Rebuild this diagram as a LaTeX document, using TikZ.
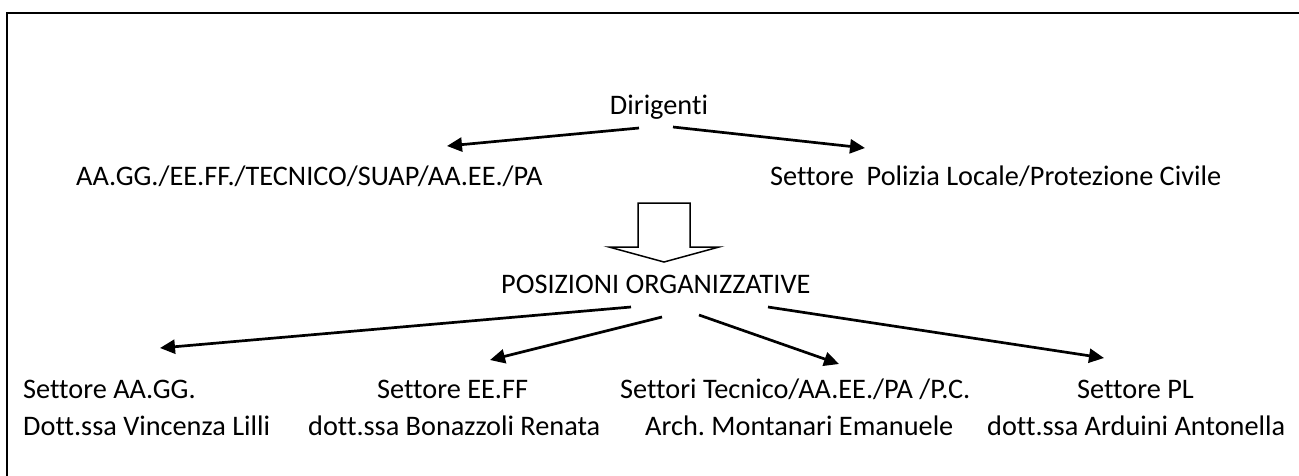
\documentclass[tikz,border=0pt]{standalone}
\usepackage{fontspec}
\setmainfont{Carlito}[Ligatures=NoCommon]
\frenchspacing
\usetikzlibrary{arrows.meta}
\begin{document}
\begin{tikzpicture}[x=1pt,y=-1pt,
  lbl/.style={inner sep=0pt, font=\fontsize{28.3}{34}\selectfont},
  conn/.style={line width=2.7pt, -{Triangle[length=15pt,width=14pt]}},
  blockarrow/.style={line width=1.5pt, fill=white, line join=miter}]
\useasboundingbox (0,0) rectangle (1299,475);
% frame (open on right and bottom, as in the reference)
\draw[line width=2.5pt] (1310,13) -- (7,13) -- (7,490);
% top level
\node[lbl, anchor=base] (dir) at (659,114) {Dirigenti};
\node[lbl, anchor=base west] (left) at (76,185) {AA.GG./EE.FF./TECNICO/SUAP/AA.EE./PA};
\node[lbl, anchor=base west] (right) at (770,185) {Settore\ \ Polizia Locale/Protezione Civile};
\coordinate (d1s) at (639,128); \coordinate (d1e) at (447,146);
\coordinate (d2s) at (673,127); \coordinate (d2e) at (865,148);
\draw[conn] (d1s) -- (d1e);
\draw[conn] (d2s) -- (d2e);
% block arrow
\draw[blockarrow] (638,203) -- (690,203) -- (690,247) -- (719,247) -- (664,262) -- (609,247) -- (638,247) -- cycle;
% middle
\node[lbl, anchor=base west] (po) at (501,293) {POSIZIONI ORGANIZZATIVE};
\coordinate (p1s) at (631,307); \coordinate (p1e) at (160,348);
\coordinate (p2s) at (662,317); \coordinate (p2e) at (490,360);
\coordinate (p3s) at (699,315); \coordinate (p3e) at (839,364);
\coordinate (p4s) at (768,307); \coordinate (p4e) at (1104,358);
\draw[conn] (p1s) -- (p1e);
\draw[conn] (p2s) -- (p2e);
\draw[conn] (p3s) -- (p3e);
\draw[conn] (p4s) -- (p4e);
% bottom rows
\node[lbl, anchor=base west] (s1) at (23,398) {Settore AA.GG.};
\node[lbl, anchor=base west] (s2) at (377,398) {Settore EE.FF};
\node[lbl, anchor=base west] (s3) at (620,398) {Settori Tecnico/AA.EE./PA /P.C.};
\node[lbl, anchor=base west] (s4) at (1077,398) {Settore PL};
\node[lbl, anchor=base west] (n1) at (23,435) {Dott.ssa Vincenza Lilli};
\node[lbl, anchor=base west] (n2) at (308,435) {dott.ssa Bonazzoli Renata};
\node[lbl, anchor=base west] (n3) at (645,435) {Arch. Montanari Emanuele};
\node[lbl, anchor=base west] (n4) at (987,435) {dott.ssa Arduini Antonella};
\end{tikzpicture}
\end{document}
